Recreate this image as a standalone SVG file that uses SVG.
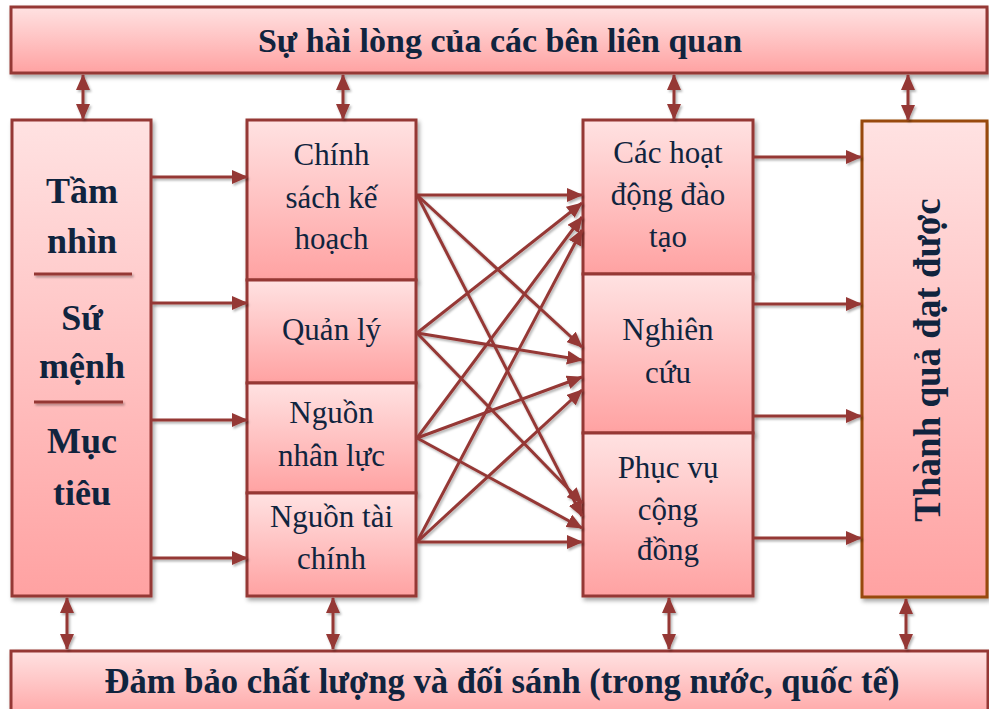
<svg xmlns="http://www.w3.org/2000/svg" width="989" height="709" viewBox="0 0 989 709">
<defs>
<linearGradient id="g" x1="0" y1="0" x2="0" y2="1">
<stop offset="0" stop-color="#ffe2e2"/>
<stop offset="1" stop-color="#ffa2a2"/>
</linearGradient>
<filter id="sh" x="-10%" y="-10%" width="120%" height="130%">
<feDropShadow dx="2" dy="3" stdDeviation="2" flood-color="#000" flood-opacity="0.35"/>
</filter>
<filter id="lsh" filterUnits="userSpaceOnUse" x="0" y="0" width="989" height="709">
<feDropShadow dx="1.5" dy="2" stdDeviation="1.2" flood-color="#000" flood-opacity="0.3"/>
</filter>
<marker id="ah" markerUnits="userSpaceOnUse" markerWidth="16" markerHeight="14" refX="15" refY="7" orient="auto-start-reverse">
<path d="M0,0 L16,7 L0,14 z" fill="#953735"/>
</marker>
</defs>
<style>
.box{fill:url(#g);stroke:#953735;stroke-width:3;filter:url(#sh);}
.box2{fill:url(#g);stroke:#984807;stroke-width:3;filter:url(#sh);}
.t{font-family:"Liberation Serif","Times New Roman",serif;fill:#10243e;text-anchor:middle;}
.b{font-weight:bold;}
.m{font-size:31px;}
.l{font-size:36px;font-weight:bold;}
.c line{stroke:#953735;stroke-width:3;marker-end:url(#ah);}
.c .d{marker-start:url(#ah);}
.div{fill:#953735;filter:url(#lsh);}
</style>

<g id="top">
<rect class="box" x="11" y="7" width="976" height="66"/>
<text class="t b" x="500" y="52" font-size="34">Sự hài lòng của các bên liên quan</text>
</g>

<g id="bottom">
<rect class="box" x="11" y="651" width="977" height="70"/>
<text class="t b" x="502" y="693" font-size="36" textLength="795" lengthAdjust="spacingAndGlyphs">Đảm bảo chất lượng và đối sánh (trong nước, quốc tế)</text>
</g>

<g id="left">
<rect class="box" x="12" y="120" width="139" height="476"/>
<text class="t l" x="82" y="203">Tầm</text>
<text class="t l" x="82" y="253">nhìn</text>
<rect class="div" x="34" y="272.5" width="98" height="3"/>
<text class="t l" x="82" y="330">Sứ</text>
<text class="t l" x="82" y="378">mệnh</text>
<rect class="div" x="34" y="400.5" width="89" height="3"/>
<text class="t l" x="82" y="453">Mục</text>
<text class="t l" x="82" y="505">tiêu</text>
</g>

<g id="chinhsach">
<rect class="box" x="247" y="120" width="169" height="160"/>
<text class="t m" x="331.5" y="165">Chính</text>
<text class="t m" x="331.5" y="208">sách kế</text>
<text class="t m" x="331.5" y="249">hoạch</text>
</g>
<g id="quanly">
<rect class="box" x="247" y="280" width="169" height="103"/>
<text class="t m" x="331.5" y="340">Quản lý</text>
</g>
<g id="nhanluc">
<rect class="box" x="247" y="383" width="169" height="110"/>
<text class="t m" x="331.5" y="423">Nguồn</text>
<text class="t m" x="331.5" y="466">nhân lực</text>
</g>
<g id="taichinh">
<rect class="box" x="247" y="493" width="169" height="103"/>
<text class="t m" x="331.5" y="527">Nguồn tài</text>
<text class="t m" x="331.5" y="569">chính</text>
</g>

<g id="daotao">
<rect class="box" x="583" y="120" width="170" height="154"/>
<text class="t m" x="668" y="163">Các hoạt</text>
<text class="t m" x="668" y="205">động đào</text>
<text class="t m" x="668" y="247">tạo</text>
</g>
<g id="nghiencuu">
<rect class="box" x="583" y="274" width="170" height="159"/>
<text class="t m" x="668" y="340">Nghiên</text>
<text class="t m" x="668" y="383">cứu</text>
</g>
<g id="phucvu">
<rect class="box" x="583" y="433" width="170" height="163"/>
<text class="t m" x="668" y="478">Phục vụ</text>
<text class="t m" x="668" y="520">cộng</text>
<text class="t m" x="668" y="560">đồng</text>
</g>

<g id="thanhqua">
<rect class="box2" x="862" y="121" width="125" height="476"/>
<text class="t b" x="0" y="0" font-size="37" transform="translate(940,360) rotate(-90)">Thành quả đạt được</text>
</g>

<g id="connectors" class="c" filter="url(#lsh)">
<line class="d" x1="83" y1="75" x2="83" y2="119"/>
<line class="d" x1="343" y1="75" x2="343" y2="119"/>
<line class="d" x1="674" y1="75" x2="674" y2="119"/>
<line class="d" x1="908" y1="75" x2="908" y2="120"/>
<line class="d" x1="67" y1="598" x2="67" y2="649"/>
<line class="d" x1="333" y1="598" x2="333" y2="649"/>
<line class="d" x1="669" y1="598" x2="669" y2="649"/>
<line class="d" x1="906" y1="599" x2="906" y2="649"/>

<line x1="152" y1="177" x2="247" y2="177"/>
<line x1="152" y1="303" x2="247" y2="303"/>
<line x1="152" y1="420" x2="247" y2="420"/>
<line x1="152" y1="558" x2="247" y2="558"/>

<line x1="754" y1="157" x2="861" y2="157"/>
<line x1="754" y1="304" x2="861" y2="304"/>
<line x1="754" y1="416" x2="861" y2="416"/>
<line x1="754" y1="538" x2="861" y2="538"/>

<line x1="417" y1="195" x2="582" y2="195"/>
<line x1="417" y1="195" x2="582" y2="347"/>
<line x1="417" y1="195" x2="582" y2="516"/>
<line x1="417" y1="333" x2="582" y2="203"/>
<line x1="417" y1="333" x2="582" y2="360"/>
<line x1="417" y1="333" x2="582" y2="503"/>
<line x1="417" y1="438" x2="582" y2="217"/>
<line x1="417" y1="438" x2="582" y2="377"/>
<line x1="417" y1="438" x2="582" y2="528"/>
<line x1="417" y1="542" x2="582" y2="230"/>
<line x1="417" y1="542" x2="582" y2="390"/>
<line x1="417" y1="542" x2="582" y2="542"/>
</g>
</svg>
